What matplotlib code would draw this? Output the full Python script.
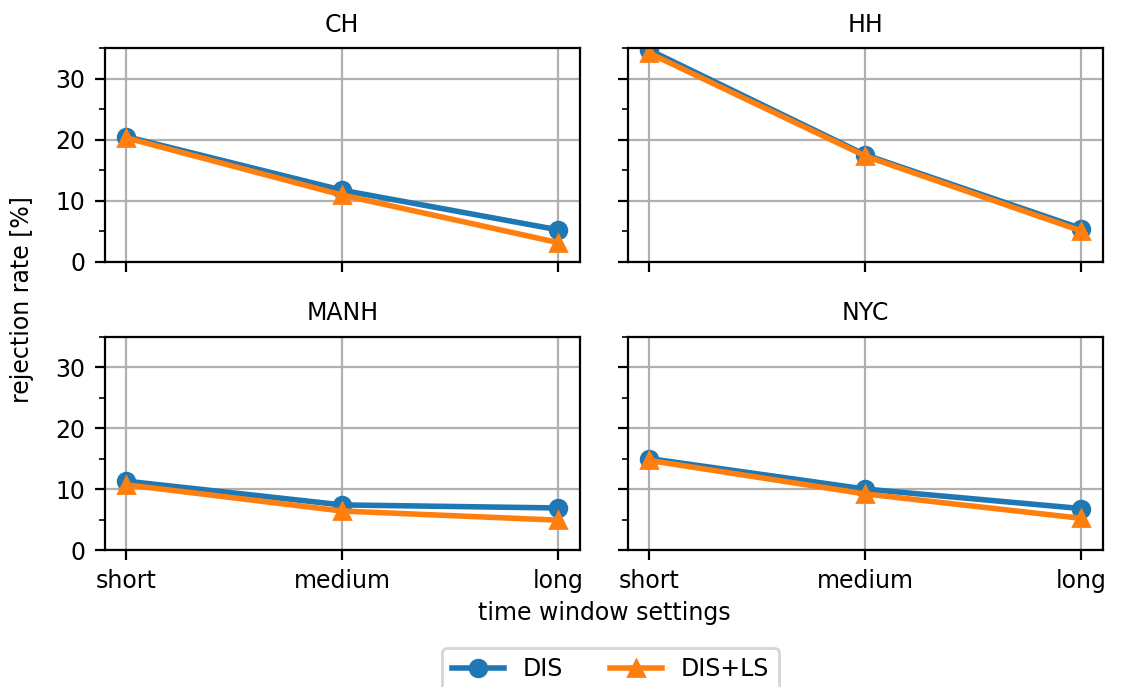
import numpy as np
import matplotlib.pyplot as plt
from matplotlib.ticker import MultipleLocator

plt.rcParams['font.size'] = 8.5
plt.rcParams['axes.titlesize'] = 8.5

settings = ["short", "medium", "long"]
regions = ["CH", "HH", "MANH", "NYC"]

# rejection rate [%] per region, one value per time window setting
dis = {
    "CH":   [20.5, 11.7, 5.2],
    "HH":   [34.7, 17.5, 5.4],
    "MANH": [11.3, 7.4, 6.9],
    "NYC":  [15.0, 10.0, 6.8],
}
dis_ls = {
    "CH":   [20.3, 10.9, 3.1],
    "HH":   [34.2, 17.3, 5.0],
    "MANH": [10.7, 6.4, 4.9],
    "NYC":  [14.7, 9.2, 5.2],
}

fig, axes = plt.subplots(2, 2, figsize=(5.605, 3.435), dpi=200, sharex=True, sharey=True)
fig.subplots_adjust(left=0.0934, right=0.984, top=0.9297, bottom=0.1994,
                    wspace=0.101, hspace=0.353)

x = np.arange(len(settings))
for ax, reg in zip(axes.flat, regions):
    l1, = ax.plot(x, dis[reg], marker="o", lw=2, label="DIS")
    l2, = ax.plot(x, dis_ls[reg], marker="^", lw=2, label="DIS+LS")
    ax.set_title(reg)
    ax.grid(True)
    ax.set_ylim(0, 35)
    ax.yaxis.set_major_locator(MultipleLocator(10))
    ax.yaxis.set_minor_locator(MultipleLocator(5))
    ax.set_xticks(x)
    ax.set_xticklabels(settings)

fig.text(0.5 * (0.0934 + 0.984), 0.108, "time window settings", ha="center", va="center")
fig.text(0.02, 0.5 * (0.9297 + 0.1994), "rejection rate [%]", rotation=90,
         ha="center", va="center")
fig.legend(handles=[l1, l2], loc="upper center", ncol=2, borderaxespad=0,
           bbox_to_anchor=(0.5446, 0.057), handlelength=2.2)

fig.savefig("out.png", dpi=200)
